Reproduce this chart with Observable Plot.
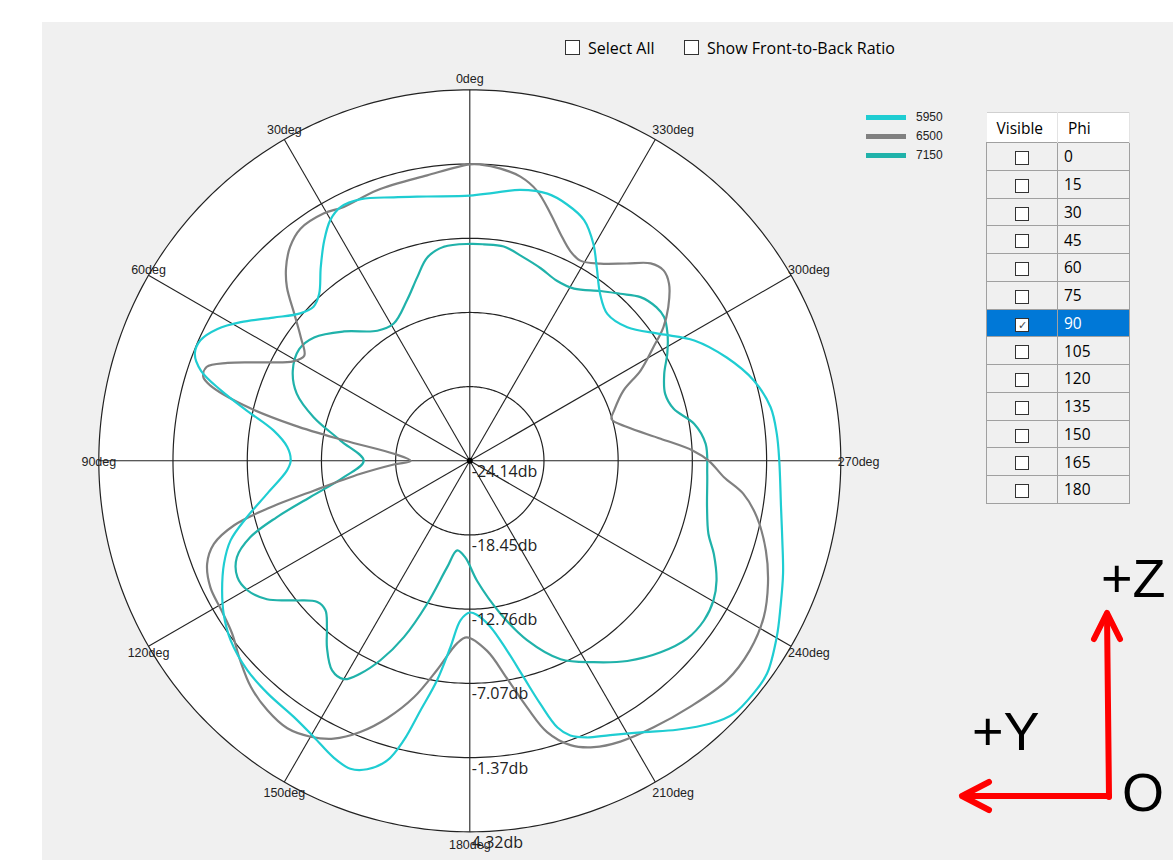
<!DOCTYPE html>
<html><head><meta charset="utf-8">
<script src="https://cdn.jsdelivr.net/npm/d3@7"></script>
<script src="https://cdn.jsdelivr.net/npm/@observablehq/plot@0.6"></script>
<style>
body{margin:0;background:#fff;width:1173px;height:860px;overflow:hidden;position:relative;font-family:"Open Sans",sans-serif;}
#panel{position:absolute;left:42px;top:22px;width:1131px;height:838px;background:#f0f0f0;}
#chart{position:absolute;left:0;top:0;}
.cb{position:absolute;width:13px;height:13px;border:1px solid #333;background:#fff;box-sizing:content-box;}
.lbl{position:absolute;font-size:16px;line-height:20px;color:#000;white-space:nowrap;}
.sw{position:absolute;width:40px;height:5px;}
.lg{position:absolute;font-family:"Liberation Sans",Arial,sans-serif;font-size:12px;line-height:14px;color:#222;}
#tbl{position:absolute;left:986px;top:112px;border-collapse:collapse;font-size:15.5px;color:#000;}
#tbl th{background:#fff;font-weight:normal;text-align:left;height:30px;padding:0 0 0 10px;border-top:1px solid #d0d0d0;border-right:1px solid #e3e3e3;box-sizing:border-box;}
#tbl td{border:1px solid #a0a0a0;height:27.75px;padding:0;box-sizing:border-box;background:#f0f0f0;}
#tbl td.c1{width:71px;text-align:center;}
#tbl td.c2{width:72px;padding-left:6px;}
#tbl tr.sel td{background:#0078d7;color:#fff;}
.box{display:inline-block;width:12px;height:12px;border:1px solid #333;background:#fff;vertical-align:middle;position:relative;font-size:11px;line-height:12px;color:#444;text-align:center;}
#axes{position:absolute;left:0;top:0;pointer-events:none;}
</style></head>
<body>
<div id="panel"></div>
<div id="chart"></div>
<div class="cb" style="left:565px;top:40px"></div><div class="lbl" style="left:588px;top:38px">Select All</div>
<div class="cb" style="left:684px;top:40px"></div><div class="lbl" style="left:707px;top:38px">Show Front-to-Back Ratio</div>
<div id="legend"></div>
<table id="tbl"></table>
<svg id="axes" width="1173" height="860">
  <g stroke="#ff0000" stroke-width="6" fill="none" stroke-linecap="round" stroke-linejoin="round">
    <path d="M1109,797 L1107,614"/>
    <path d="M1094,639 L1107,613 L1120,639"/>
    <path d="M1109,796 L963,796"/>
    <path d="M989,782 L962,796 L989,810"/>
  </g>
  <g font-family="Liberation Sans, Arial, sans-serif" font-size="54" fill="#000">
    <text x="1101" y="597">+Z</text>
    <text x="972" y="750">+Y</text>
    <text x="1122" y="811">O</text>
  </g>
</svg>
<script>
// ---- data ----
const seriesNames = ["5950", "6500", "7150"];
const seriesColors = ["#1fcdd2", "#808080", "#20b2aa"];
const dbTicks = [-24.14, -18.45, -12.76, -7.07, -1.37, 4.32];
const angleTicks = [0, 30, 60, 90, 120, 150, 180, 210, 240, 270, 300, 330];
const phiValues = [0, 15, 30, 45, 60, 75, 90, 105, 120, 135, 150, 165, 180];
const selectedPhi = 90;

const theta5950 = [0, 9.2, 16.1, 22.6, 27, 30.1, 33.5, 37.6, 42.1, 45.4, 49, 53.9, 58.8, 62.4, 65.9, 68.7, 71.5, 74.2, 77.3, 81.2, 85.7, 90, 93, 99.2, 104.2, 108.4, 112.7, 117.6, 121.9, 126.9, 133.3, 139, 145.5, 150.6, 155.3, 158.8, 161.6, 164.6, 166.7, 168.8, 171.5, 174.1, 176.7, 180, 182.7, 187.1, 191.1, 194, 196.2, 198.2, 200.1, 202.9, 207.1, 212.7, 217.6, 222.5, 226.2, 230.6, 234.4, 240.2, 244.8, 250.2, 255.7, 261.5, 270, 275, 280.1, 285.8, 291.9, 298.2, 303.7, 310.3, 316.9, 322, 326.7, 330.3, 334.6, 339.3, 343.8, 349.4, 354.9];
const db5950 = [-3.8, -3.6, -3.1, -2.4, -2.3, -2.8, -3.9, -5.4, -6.9, -7.3, -6.9, -5.5, -3.6, -2.3, -1.5, -1.5, -2.4, -4.3, -6.6, -8.9, -10.1, -10.4, -10.1, -8.4, -6.5, -4.8, -3.7, -2.7, -1.9, -1.2, -0.7, -0.5, -0.3, 0.2, 0.9, 1.2, 0.8, -0.3, -2.1, -4.6, -7.1, -9.8, -11.9, -12.5, -12.3, -11.3, -9.3, -7.0, -4.7, -2.6, -1.7, -1.1, -0.5, 0.6, 1.9, 3.2, 3.9, 4.0, 3.9, 3.0, 2.2, 1.4, 0.6, 0.0, -0.4, -0.5, -0.7, -1.5, -2.9, -4.6, -6.6, -8.3, -8.7, -7.9, -6.4, -5.0, -3.7, -3.1, -2.8, -3.0, -3.5];

const theta6500 = [0, 8.5, 18.9, 26.4, 30.5, 36.1, 40, 43.6, 46.5, 50.1, 53.9, 57.6, 60.6, 64.8, 68, 70.4, 72.5, 73.8, 76.2, 78.6, 80.8, 84.7, 90, 92.8, 96.8, 100.8, 103.3, 105.3, 108, 111.4, 116, 121.1, 126, 131, 135.9, 140.9, 145.7, 150, 153.9, 158, 162.2, 166.7, 171.1, 176, 179, 185.2, 189.7, 193.1, 195.9, 199.5, 203.4, 208.2, 214.6, 221.9, 229.5, 235.9, 242, 247.6, 253.1, 258.9, 263.1, 266.3, 270, 272.6, 276.6, 282.1, 286.4, 289.3, 294.5, 297.9, 301.7, 304.6, 307.7, 311.6, 314.5, 317.5, 321.5, 326.5, 331.1, 334.4, 338.2, 341.9, 346, 349.9, 354, 357.9];
const db6500 = [-1.4, -2.0, -2.2, -2.4, -2.1, -2.1, -2.7, -3.7, -4.8, -6.6, -8.1, -9.1, -8.6, -6.4, -4.1, -2.7, -2.7, -3.4, -6.3, -10.4, -14.4, -18.3, -19.6, -18.3, -15.7, -12.0, -8.2, -5.4, -3.5, -2.5, -2.0, -1.9, -1.6, -0.8, 0.0, 0.5, 0.7, 0.3, -0.4, -1.7, -3.4, -5.5, -7.9, -10.1, -10.6, -9.5, -7.2, -4.7, -2.5, -1.0, -0.2, 0.3, 0.7, 1.2, 1.8, 1.8, 1.4, 0.6, -0.4, -1.7, -3.0, -4.6, -5.8, -7.0, -9.4, -11.8, -12.8, -12.4, -11.2, -9.3, -7.6, -6.1, -4.9, -3.7, -3.3, -3.6, -4.8, -6.0, -6.6, -6.3, -5.4, -4.2, -2.8, -2.0, -1.6, -1.4];

const theta7150 = [0, 6.9, 11.8, 16, 21.3, 29, 35.4, 44.2, 51.6, 56.8, 63, 68.8, 74.4, 81.1, 90, 97.4, 102.8, 106.3, 109.2, 112.5, 116.6, 120.2, 124.3, 128.4, 132.8, 136, 139.4, 142.6, 146.7, 150, 152.8, 155.9, 159.5, 163.4, 168, 172, 177.4, 183.5, 191.3, 197.7, 204.6, 211.6, 218.2, 224.9, 230.7, 235.7, 240.2, 244.1, 249.1, 253, 259, 266.9, 274.1, 279.4, 284.3, 288.9, 294.1, 298.5, 302.8, 306.5, 309.4, 313.8, 318, 322.4, 328.8, 334.2, 339.8, 345.2, 351, 356.3];
const db7150 = [-7.5, -7.6, -8.2, -9.5, -10.9, -12.1, -11.9, -10.3, -8.9, -8.5, -8.9, -9.9, -11.7, -14.1, -16.0, -14.4, -11.6, -8.7, -6.3, -4.8, -4.2, -4.4, -5.3, -6.9, -8.2, -8.2, -7.3, -6.1, -4.9, -4.8, -5.8, -7.4, -9.7, -12.7, -15.8, -17.2, -16.7, -14.9, -12.2, -9.7, -7.4, -6.0, -4.6, -3.4, -2.6, -2.4, -2.6, -3.1, -4.1, -5.0, -5.6, -5.9, -6.0, -6.7, -8.0, -8.3, -7.8, -6.9, -6.1, -5.6, -5.6, -6.0, -6.9, -7.7, -8.7, -8.8, -8.4, -8.0, -7.5, -7.5];

// ---- layout ----
const W = 1173, H = 860;
const CX = 469.3, CY = 460.3, R = 371;

const rows = [];
[[seriesNames[0], theta5950, db5950], [seriesNames[1], theta6500, db6500], [seriesNames[2], theta7150, db7150]]
  .forEach(([s, th, db]) => th.forEach((t, i) => rows.push({series: s, theta: t, db: db[i]})));
const drawOrder = [seriesNames[2], seriesNames[1], seriesNames[0]];
rows.sort((a, b) => drawOrder.indexOf(a.series) - drawOrder.indexOf(b.series));

const dbMin = dbTicks[0], dbMax = dbTicks[dbTicks.length - 1];
const rad = d3.scaleLinear().domain([dbMin, dbMax]).range([0, 1]);
const toR = a => a * Math.PI / 180;
const px = (a, v) => -rad(v) * Math.sin(toR(a));
const py = (a, v) => rad(v) * Math.cos(toR(a));
const circle = d3.range(0, 360, 1);
const ringRows = dbTicks.slice(1).flatMap(v => circle.map(a => ({ring: v, a})));
const labelOff = 1 + 12 / R;

const chart = Plot.plot({
  width: W, height: H,
  margin: 0,
  style: {background: "none", overflow: "visible"},
  x: {domain: [-1, 1], range: [CX - R, CX + R], axis: null},
  y: {domain: [-1, 1], range: [CY + R, CY - R], axis: null},
  color: {domain: seriesNames, range: seriesColors},
  marks: [
    Plot.line(circle, {x: a => px(a, dbMax), y: a => py(a, dbMax), fill: "white", stroke: "none", curve: "linear-closed"}),
    Plot.line(ringRows, {x: d => px(d.a, d.ring), y: d => py(d.a, d.ring), z: "ring", stroke: "#222", strokeWidth: 1.2, curve: "linear-closed"}),
    Plot.link(angleTicks, {x1: 0, y1: 0, x2: a => px(a, dbMax), y2: a => py(a, dbMax), stroke: "#222", strokeWidth: 1.1}),
    Plot.line(rows, {x: d => px(d.theta, d.db), y: d => py(d.theta, d.db), z: "series", stroke: "series", strokeWidth: 2.2, curve: "catmull-rom-closed"}),
    Plot.dot([0], {x: 0, y: 0, r: 3, fill: "#000"}),
    Plot.text(angleTicks.filter(a => a <= 180), {
      x: a => px(a, dbMax), y: a => py(a, dbMax) * labelOff, text: a => a + "deg",
      textAnchor: "middle", dy: 1, fontSize: 12.5, fontFamily: "Liberation Sans, Arial, sans-serif", fill: "#222"}),
    Plot.text(angleTicks.filter(a => a > 180), {
      x: a => px(a, dbMax), y: a => py(a, dbMax) * labelOff, text: a => a + "deg",
      textAnchor: "start", dx: -3, dy: 1, fontSize: 12.5, fontFamily: "Liberation Sans, Arial, sans-serif", fill: "#222"}),
    Plot.text(dbTicks, {
      x: 0, y: v => -rad(v), text: v => v.toFixed(2) + "db",
      textAnchor: "start", dx: 2, dy: 11, fontSize: 16, fontFamily: "Open Sans, sans-serif", fill: "#222"})
  ]
});
document.getElementById("chart").appendChild(chart);

// ---- legend ----
const leg = document.getElementById("legend");
seriesNames.forEach((s, i) => {
  const cyl = 117 + i * 19;
  const sw = document.createElement("div");
  sw.className = "sw"; sw.style.left = "866px"; sw.style.top = (cyl - 2.5) + "px"; sw.style.background = seriesColors[i];
  const lb = document.createElement("div");
  lb.className = "lg"; lb.style.left = "916px"; lb.style.top = (cyl - 7) + "px"; lb.textContent = s;
  leg.appendChild(sw); leg.appendChild(lb);
});

// ---- table ----
const tbl = document.getElementById("tbl");
let html = '<tr><th style="width:71px">Visible</th><th style="width:72px">Phi</th></tr>';
phiValues.forEach(p => {
  const sel = p === selectedPhi;
  html += `<tr class="${sel ? "sel" : ""}"><td class="c1"><span class="box">${sel ? "&#10003;" : ""}</span></td><td class="c2">${p}</td></tr>`;
});
tbl.innerHTML = html;
</script>
</body></html>
